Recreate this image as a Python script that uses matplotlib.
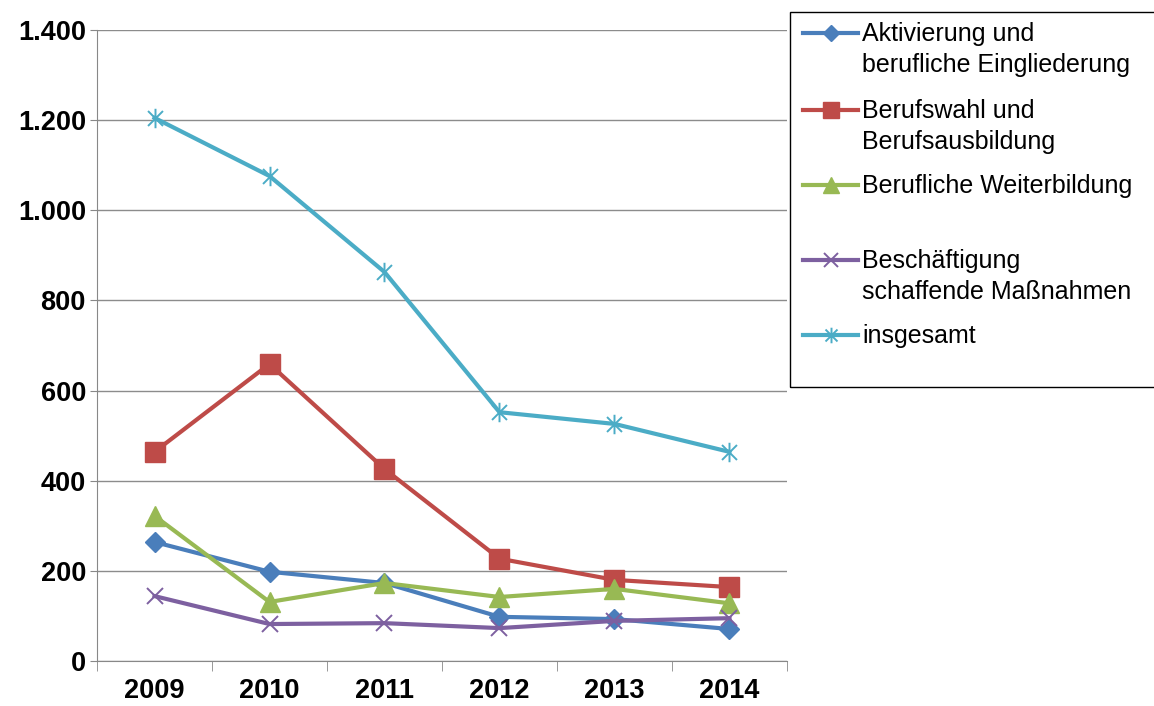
import matplotlib.pyplot as plt
import numpy as np
from matplotlib.lines import Line2D
from matplotlib.patches import Rectangle
from matplotlib.path import Path
from matplotlib.ticker import FuncFormatter, FixedLocator

plt.rcParams["font.family"] = ["Liberation Sans", "DejaVu Sans"]

# ----- Daten ----- #
years = ["2009", "2010", "2011", "2012", "2013", "2014"]
aktivierung = [264, 198, 173, 98, 93, 71]
berufswahl = [464, 659, 426, 227, 180, 164]
weiterbildung = [322, 131, 173, 142, 160, 128]
beschaeftigung = [144, 82, 84, 73, 89, 95]
insgesamt = [1205, 1076, 863, 552, 526, 464]

labels = [
    "Aktivierung und\nberufliche Eingliederung",
    "Berufswahl und\nBerufsausbildung",
    "Berufliche Weiterbildung",
    "Beschäftigung\nschaffende Maßnahmen",
    "insgesamt",
]
colors = ["#4A7EBB", "#BE4B48", "#98B954", "#7D60A0", "#4BACC6"]

# Excel-Stern: X + senkrechter Strich
M, L = Path.MOVETO, Path.LINETO
star = Path([(-1, -1), (1, 1), (-1, 1), (1, -1), (0, -1.3), (0, 1.3)],
            [M, L, M, L, M, L])

styles = [
    dict(marker="D", ms=10.5, mec=colors[0]),
    dict(marker="s", ms=14, mec=colors[1]),
    dict(marker="^", ms=14, mec=colors[2]),
    dict(marker="x", ms=12, mew=1.4),
    dict(marker=star, ms=14, mew=1.4),
]
series = [aktivierung, berufswahl, weiterbildung, beschaeftigung, insgesamt]

fig = plt.figure(figsize=(11.54, 7.06), dpi=100)
ax = fig.add_axes([97 / 1154, 1 - 661 / 706, 690 / 1154, 631 / 706])

x = np.arange(len(years))
for vals, col, st in zip(series, colors, styles):
    ax.plot(x, vals, color=col, lw=3, **st)

ax.set_xlim(-0.5, len(years) - 0.5)
ax.set_ylim(0, 1400)
ax.set_yticks(range(0, 1401, 200))
ax.yaxis.set_major_formatter(FuncFormatter(lambda v, p: f"{int(v):,}".replace(",", ".")))
ax.set_xticks(x)
ax.set_xticklabels(years)
ax.xaxis.set_minor_locator(FixedLocator(np.arange(-0.5, len(years), 1.0)))
ax.tick_params(axis="x", which="major", length=0, pad=12)
ax.tick_params(axis="x", which="minor", length=7, color="#888888", direction="out")
ax.tick_params(axis="y", length=5, color="#888888", pad=3)
for lab in ax.get_xticklabels() + ax.get_yticklabels():
    lab.set_fontsize(19.5)
    lab.set_fontweight("bold")

ax.grid(axis="y", color="#8C8C8C", lw=1)
ax.set_axisbelow(True)
for side in ["top", "right"]:
    ax.spines[side].set_visible(False)
ax.spines["left"].set_color("#888888")
ax.spines["bottom"].set_color("#888888")

# ----- Legende (manuell, Excel-Stil) ----- #
W, H = 1154, 706
fig.add_artist(Rectangle((790 / W, 1 - 387 / H), 370 / W, 375 / H,
                         transform=fig.transFigure, fill=False, ec="black", lw=1))
entry_y = [33, 110, 185, 260, 335]
for lab, col, st, yy in zip(labels, colors, styles, entry_y):
    yf = 1 - yy / H
    st_leg = dict(st)
    st_leg["ms"] = st["ms"] * 0.8
    fig.add_artist(Line2D([803 / W, 858 / W], [yf, yf], transform=fig.transFigure,
                          color=col, lw=3))
    fig.add_artist(Line2D([831 / W], [yf], transform=fig.transFigure,
                          color=col, lw=0, **st_leg))
    fig.text(862 / W, yf + 11 / H, lab, fontsize=18, va="top", ha="left",
             linespacing=1.35)

fig.savefig("out.png", dpi=100)
